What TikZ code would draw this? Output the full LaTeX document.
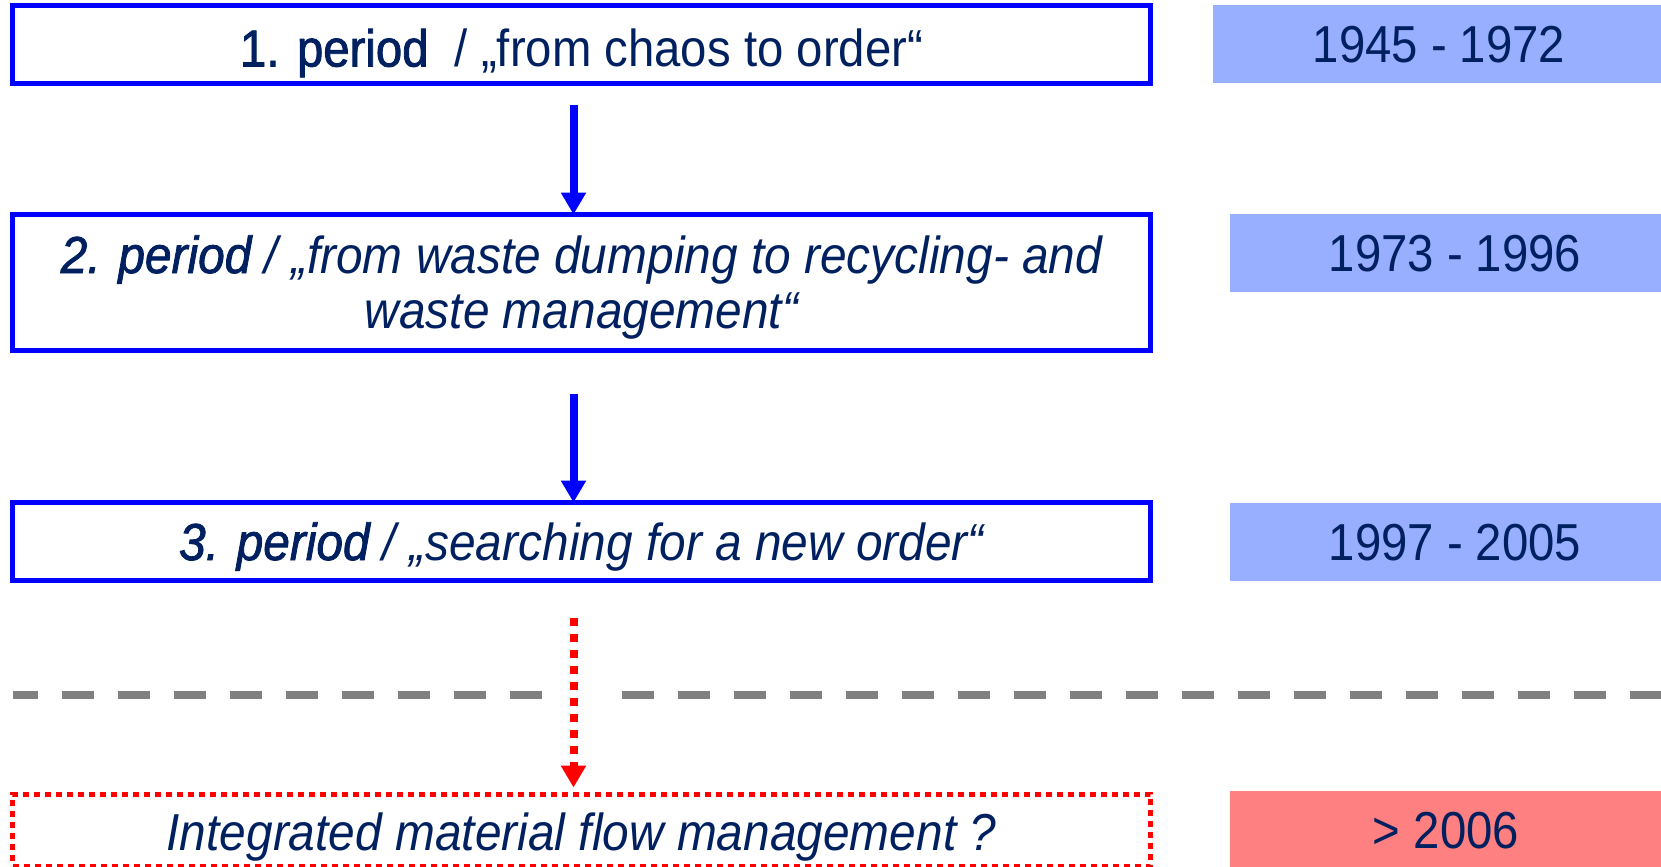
\documentclass[tikz,border=0pt]{standalone}
\usepackage{fontspec}
\setmainfont{Liberation Sans}[FakeStretch=0.91,ItalicFeatures={FakeStretch=0.92}]
\newfontfamily\heavy{Liberation Sans}[FakeStretch=0.91,FakeBold=1.6,ItalicFeatures={FakeStretch=0.92}]
\usetikzlibrary{arrows.meta}
\definecolor{navy}{RGB}{0,32,96}
\definecolor{dateblue}{RGB}{152,174,255}
\definecolor{datered}{RGB}{255,128,128}
\definecolor{dashgray}{RGB}{128,128,128}

\begin{document}
\begin{tikzpicture}[x=0.5pt,y=-0.5pt,
    bigtext/.style={font=\fontsize{26}{27.5}\selectfont,text=navy},
    periodbox/.style={bigtext,draw=blue,line width=2.5pt,minimum width=569pt,minimum height=39pt,inner sep=0pt,text depth=0pt},
    datebox/.style={bigtext,fill=#1,minimum height=39pt,inner sep=0pt,text height=18.6pt,text depth=0pt},
    flow/.style={line width=4pt,-{Triangle[width=12pt,length=11pt]}}]
    \useasboundingbox (0,0) rectangle (1661,867);
    \clip (0,0) rectangle (1661,867);

    % periods
    \node[periodbox,text height=22pt] (p1) at (581.5,44.5) {{\heavy 1. period}\ \ / „from chaos to order“};
    \node[periodbox,minimum height=68pt,align=center,font=\fontsize{26}{27.5}\selectfont\itshape,text height=45.5pt] (p2) at (581.5,282.5)
        {{\heavy\itshape 2. period} / „from waste dumping to recycling- and\\waste management“};
    \node[periodbox,font=\fontsize{26}{27.5}\selectfont\itshape,text height=18.5pt] (p3) at (581.5,541.5) {{\heavy\itshape 3. period} / „searching for a new order“};
    \node[periodbox,draw=red,dash pattern=on 3pt off 2.5pt,minimum height=36pt,font=\fontsize{26}{27.5}\selectfont\itshape,text height=20pt] (p4) at (581.5,830) {Integrated material flow management ?};

    % years
    \node[datebox=dateblue,minimum width=226pt] (d1) at (1439,44) {1945 - 1972};
    \node[datebox=dateblue,minimum width=225pt] (d2) at (1455,253) {1973 - 1996};
    \node[datebox=dateblue,minimum width=225pt] (d3) at (1455,541.5) {1997 - 2005};
    \node[datebox=datered,minimum width=216pt] (d4) at (1446,830) {> 2006};

    \draw[flow,blue,shorten <=9.25pt,shorten >=-1.25pt] ([xshift=-4pt]p1.south) -- ([xshift=-4pt]p2.north);
    \draw[flow,blue,shorten <=20.25pt,shorten >=-1.25pt] ([xshift=-4pt]p2.south) -- ([xshift=-4pt]p3.north);

    \draw[dashgray,line width=4pt,dash pattern=on 16pt off 12pt,dash phase=3.5pt] (13,695) -- (542,695);
    \draw[dashgray,line width=4pt,dash pattern=on 16pt off 12pt] (622,695) -- (1661,695);

    \draw[flow,red,dash pattern=on 4pt off 4pt,shorten <=17.25pt,shorten >=2pt] ([xshift=-4pt]p3.south) -- ([xshift=-4pt]p4.north);
\end{tikzpicture}
\end{document}
